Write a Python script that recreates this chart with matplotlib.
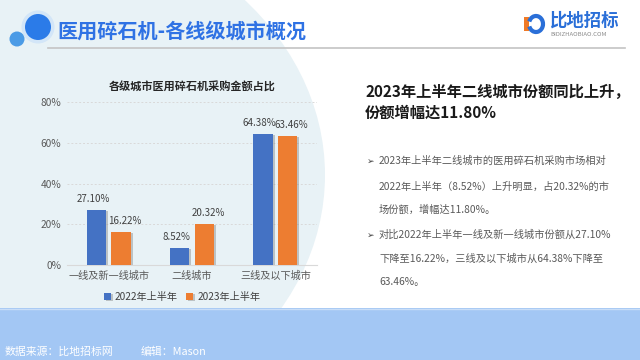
import matplotlib
matplotlib.use("Agg")
import matplotlib.pyplot as plt
import matplotlib.patheffects as pe
from matplotlib.patches import Ellipse, Circle, Rectangle, Arc
import numpy as np

plt.rcParams['font.family'] = ['Noto Sans CJK SC', 'DejaVu Sans']

categories = ["一线及新一线城市", "二线城市", "三线及以下城市"]
share_2022 = [27.10, 8.52, 64.38]
share_2023 = [16.22, 20.32, 63.46]
series_names = ["2022年上半年", "2023年上半年"]
yticks = [0, 20, 40, 60, 80]

BLUE, ORANGE = "#4472c4", "#ed7d31"
BG = "#e8f2f6"

fig = plt.figure(figsize=(6.4, 3.6), dpi=100)

# page background in pixel coordinates
bg = fig.add_axes([0, 0, 1, 1])
bg.set_xlim(0, 640); bg.set_ylim(360, 0); bg.axis("off")
bg.add_patch(Ellipse((0, 175), 650, 532, fc=BG, ec="none", zorder=0))
bg.add_patch(Rectangle((0, 308), 640, 52, fc="#a3c7f4", ec="none", zorder=1))
bg.plot([0, 640], [308.5, 308.5], color="#c9def8", lw=1, zorder=1)
bg.plot([48, 625], [48, 48], color="#c4c4c4", lw=1.2, zorder=2)

# header bubbles
bg.add_patch(Circle((38, 27), 16.5, fc="#d3e6f8", ec="none", zorder=2))
bg.add_patch(Circle((38, 27), 13, fc="#2b7be8", ec="none", zorder=3))
bg.add_patch(Circle((17, 39), 7.5, fc="#4b9be6", ec="none", zorder=3))
bg.text(57, 31, "医用碎石机-各线级城市概况", fontsize=14.5, weight="bold",
        color="#2f72e4", va="center", ha="left", zorder=4)

# logo
bg.add_patch(Rectangle((524, 17), 5, 14, fc="#f07a26", ec="none", zorder=3))
bg.add_patch(Arc((536, 24), 14, 16, theta1=200, theta2=520, lw=3, color="#2a6fd8", zorder=3))
bg.text(549, 21, "比地招标", fontsize=12.5, weight="bold", style="italic",
        color="#2a6fd8", va="center", ha="left", zorder=4)
bg.text(550, 34, "BIDIZHAOBIAO.COM", fontsize=4.3, color="#8a8a8a", style="italic",
        va="center", ha="left", zorder=4)

# chart
ax = fig.add_axes([67 / 640, (360 - 265) / 360, 250 / 640, (265 - 102) / 360])
ax.patch.set_alpha(0)
x = np.arange(len(categories))
w, off = 0.23, 0.147
shadow = [pe.SimplePatchShadow(offset=(1.5, -0.8), shadow_rgbFace="#888888", alpha=0.45), pe.Normal()]
b1 = ax.bar(x - off, share_2022, w, color=BLUE, label=series_names[0], zorder=3)
b2 = ax.bar(x + off, share_2023, w, color=ORANGE, label=series_names[1], zorder=3)
for bars, vals, dx in [(b1, share_2022, -2.5), (b2, share_2023, 3.0)]:
    for r, v in zip(bars, vals):
        r.set_path_effects(shadow)
        ax.annotate(f"{v:.2f}%", (r.get_x() + r.get_width() / 2, v), xytext=(dx, 4),
                    textcoords="offset points", ha="center", va="bottom",
                    fontsize=7.0, color="#404040")

ax.set_xlim(-0.5, 2.5); ax.set_ylim(0, 80)
ax.set_yticks(yticks)
ax.set_yticklabels([f"{t}%" for t in yticks], fontsize=7.3, color="#595959")
ax.set_xticks(x)
ax.set_xticklabels(categories, fontsize=7.3, color="#595959")
ax.tick_params(length=0, pad=4)
ax.tick_params(axis="y", pad=4)
for t in yticks[1:]:
    ax.axhline(t, color="#d9d9d9", lw=0.7, ls=(0, (2, 2)), zorder=1)
for s in ["top", "right", "left"]:
    ax.spines[s].set_visible(False)
ax.spines["bottom"].set_color("#d9d9d9")
ax.set_title("各级城市医用碎石机采购金额占比", fontsize=8, weight="bold", color="#262626", pad=8)
ax.legend(loc="upper center", bbox_to_anchor=(0.46, -0.11), ncol=2, frameon=False,
          fontsize=7.3, handlelength=0.7, handleheight=0.7, handletextpad=0.4, columnspacing=0.8,
          labelcolor="#404040")

# right-side text
bg.text(365, 92, "2023年上半年二线城市份额同比上升，", fontsize=11, weight="bold",
        color="#1a1a1a", va="center", ha="left")
bg.text(365, 113, "份额增幅达11.80%", fontsize=11, weight="bold",
        color="#1a1a1a", va="center", ha="left")
lines = [(161, True, "2023年上半年二线城市的医用碎石机采购市场相对"),
         (187, False, "2022年上半年（8.52%）上升明显，占20.32%的市"),
         (210, False, "场份额，增幅达11.80%。"),
         (235, True, "对比2022年上半年一线及新一线城市份额从27.10%"),
         (259, False, "下降至16.22%，三线及以下城市从64.38%下降至"),
         (282, False, "63.46%。")]
for y, bullet, s in lines:
    if bullet:
        bg.text(367, y, "➢", fontsize=6.5, color="#404040", va="center", ha="left",
                family=["DejaVu Sans"])
    bg.text(379, y, s, fontsize=7.35, color="#595959", va="center", ha="left")

bg.text(5, 352, "数据来源：比地招标网", fontsize=7.8, color="white",
        va="center", ha="left", zorder=4)
bg.text(141, 352, "编辑：Mason", fontsize=7.8, color="white",
        va="center", ha="left", zorder=4)

fig.savefig("out.png", dpi=100)
